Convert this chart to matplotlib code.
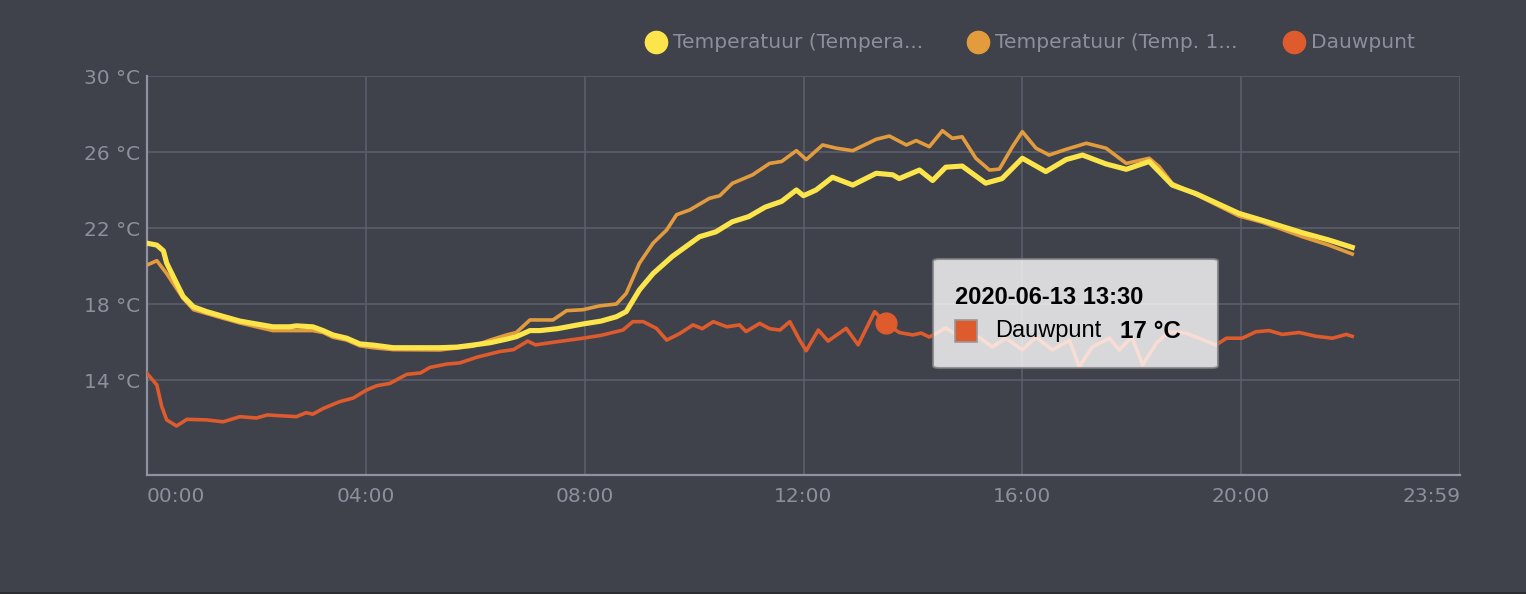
import matplotlib
matplotlib.use('Agg')
import matplotlib.pyplot as plt
from matplotlib.lines import Line2D
from matplotlib.patches import FancyBboxPatch, Rectangle

# series: hours since midnight, values in degC
temp_a_t = [0.0, 0.18, 0.3, 0.36, 0.66, 0.85, 1.09, 1.39, 1.7, 2.0, 2.3, 2.61, 2.73,
            3.03, 3.22, 3.4, 3.65, 3.89, 4.13, 4.5, 5.35, 5.66, 5.96, 6.27, 6.57,
            6.75, 7.0, 7.18, 7.5, 7.97, 8.3, 8.58, 8.76, 9.0, 9.25, 9.6, 10.1,
            10.4, 10.7, 11.0, 11.3, 11.6, 11.87, 12.0, 12.23, 12.53, 12.9, 13.33,
            13.63, 13.75, 14.12, 14.36, 14.6, 14.9, 15.33, 15.63, 16.0, 16.43,
            16.8, 17.1, 17.53, 17.9, 18.32, 18.74, 19.18, 19.96, 20.39, 21.12,
            21.6, 22.03]
temp_a = [21.2, 21.1, 20.8, 20.15, 18.4, 17.85, 17.6, 17.35, 17.1, 16.95, 16.8, 16.8, 16.85,
          16.8, 16.6, 16.37, 16.2, 15.9, 15.84, 15.7, 15.7, 15.73, 15.84, 15.96, 16.15,
          16.28, 16.6, 16.6, 16.7, 16.95, 17.1, 17.33, 17.6, 18.74, 19.6, 20.5, 21.54,
          21.8, 22.33, 22.6, 23.1, 23.4, 24.0, 23.7, 24.0, 24.67, 24.26, 24.88,
          24.8, 24.6, 25.05, 24.5, 25.2, 25.26, 24.36, 24.6, 25.67, 24.97,
          25.6, 25.84, 25.37, 25.09, 25.5, 24.26, 23.8, 22.77, 22.4, 21.75,
          21.37, 20.98]

temp_b_t = [0.0, 0.18, 0.36, 0.66, 0.85, 1.09, 1.39, 1.7, 2.0, 2.3, 2.73, 3.03,
            3.22, 3.4, 3.65, 3.89, 4.13, 4.5, 5.35, 5.96, 6.27, 6.57, 6.75, 7.0,
            7.42, 7.67, 7.97, 8.27, 8.58, 8.76, 9.0, 9.25, 9.5, 9.68, 9.92, 10.28,
            10.47, 10.7, 11.07, 11.38, 11.6, 11.87, 12.05, 12.35, 12.6, 12.9, 13.33,
            13.57, 13.88, 14.06, 14.3, 14.54, 14.72, 14.9, 15.15, 15.4, 15.58,
            15.82, 16.0, 16.25, 16.49, 16.8, 17.17, 17.53, 17.9, 18.32, 18.5,
            18.74, 19.18, 19.96, 20.39, 21.12, 21.6, 22.03]
temp_b = [20.05, 20.28, 19.6, 18.3, 17.7, 17.5, 17.25, 17.0, 16.8, 16.6, 16.6, 16.6,
          16.5, 16.25, 16.1, 15.8, 15.7, 15.6, 15.58, 15.78, 16.1, 16.37, 16.5, 17.16,
          17.16, 17.65, 17.7, 17.9, 18.0, 18.56, 20.14, 21.2, 21.9, 22.7, 22.95, 23.56,
          23.7, 24.35, 24.8, 25.4, 25.5, 26.07, 25.6, 26.37, 26.2, 26.07, 26.67,
          26.84, 26.37, 26.6, 26.28, 27.12, 26.72, 26.8, 25.67, 25.05, 25.1,
          26.28, 27.07, 26.2, 25.84, 26.14, 26.46, 26.2, 25.4, 25.67, 25.23,
          24.35, 23.75, 22.63, 22.3, 21.54, 21.1, 20.63]

dew_t = [0.0, 0.18, 0.27, 0.36, 0.54, 0.73, 1.09, 1.39, 1.7, 2.0, 2.2, 2.73, 2.91,
         3.03, 3.22, 3.52, 3.77, 4.01, 4.2, 4.44, 4.75, 5.0, 5.17, 5.48, 5.72, 6.03,
         6.45, 6.7, 6.96, 7.1, 7.46, 7.97, 8.3, 8.7, 8.88, 9.07, 9.31, 9.5, 9.74,
         9.98, 10.15, 10.35, 10.6, 10.83, 10.95, 11.2, 11.38, 11.57, 11.75, 11.93,
         12.05, 12.27, 12.45, 12.78, 13.0, 13.3, 13.5, 13.75, 14.0, 14.15, 14.3,
         14.6, 14.85, 15.2, 15.45, 15.7, 16.0, 16.25, 16.55, 16.86, 17.04, 17.28,
         17.59, 17.77, 18.0, 18.2, 18.45, 18.68, 19.0, 19.23, 19.54, 19.73, 20.02,
         20.27, 20.51, 20.75, 21.06, 21.37, 21.67, 21.92, 22.03]
dew = [14.35, 13.74, 12.6, 11.9, 11.58, 11.93, 11.9, 11.8, 12.07, 12.0, 12.16, 12.07, 12.28,
       12.2, 12.5, 12.86, 13.05, 13.47, 13.7, 13.82, 14.3, 14.37, 14.66, 14.84, 14.9, 15.2,
       15.5, 15.6, 16.05, 15.85, 16.0, 16.2, 16.35, 16.63, 17.07, 17.07, 16.72, 16.1, 16.45,
       16.9, 16.7, 17.07, 16.8, 16.9, 16.55, 16.98, 16.7, 16.63, 17.07, 16.1,
       15.54, 16.63, 16.05, 16.72, 15.85, 17.6, 17.0, 16.5, 16.37, 16.47, 16.26,
       16.74, 16.3, 16.26, 15.74, 16.2, 15.58, 16.26, 15.58, 16.1, 14.7, 15.74,
       16.2, 15.58, 16.26, 14.8, 15.94, 16.53, 16.47, 16.2, 15.84, 16.2, 16.2,
       16.54, 16.6, 16.4, 16.5, 16.3, 16.2, 16.4, 16.3]

labels = ['Temperatuur (Tempera...', 'Temperatuur (Temp. 1...', 'Dauwpunt']
x_ticks = [0, 4, 8, 12, 16, 20, 24]
x_labels = ['00:00', '04:00', '08:00', '12:00', '16:00', '20:00', '23:59']
y_ticks = [14, 18, 22, 26, 30]

hover_time = 13.5
hover_title = '2020-06-13 13:30'

BG = '#3f414b'
GRID = '#5a5e6b'
AXIS = '#8e93a3'
TXT = '#8c909c'
YELLOW = '#fbe54b'
ORANGE = '#e29c3d'
RED = '#dd5b2c'

W, H = 1526, 594
fig = plt.figure(figsize=(W / 100, H / 100), dpi=100, facecolor=BG)


def fx(x):
    return x / W


def fy(y):
    return 1 - y / H


ax = fig.add_axes([fx(147), fy(475), fx(1460) - fx(147), fy(76) - fy(475)])
ax.set_facecolor(BG)
ax.set_xlim(0, 24)
ax.set_ylim(9, 30)

ax.plot(temp_b_t, temp_b, color=ORANGE, lw=2.6, solid_joinstyle='round', zorder=3)
ax.plot(temp_a_t, temp_a, color=YELLOW, lw=3.7, solid_joinstyle='round', zorder=4)
ax.plot(dew_t, dew, color=RED, lw=2.6, solid_joinstyle='round', zorder=3)

hi = dew_t.index(hover_time)
ax.plot([dew_t[hi]], [dew[hi]], 'o', ms=15, color=RED, zorder=5)

ax.set_xticks(x_ticks, x_labels)
ax.set_yticks(y_ticks, [f'{v} °C' for v in y_ticks])
ax.tick_params(length=0, colors=TXT, labelsize=14.5)
ax.tick_params(axis='x', pad=9)
ax.tick_params(axis='y', pad=5)
xl = ax.get_xticklabels()
xl[0].set_ha('left')
xl[-1].set_ha('right')
ax.grid(True, color=GRID, lw=1.2)
ax.set_axisbelow(True)
for s in ['top', 'right']:
    ax.spines[s].set_visible(False)
for s in ['left', 'bottom']:
    ax.spines[s].set_color(AXIS)
    ax.spines[s].set_linewidth(1.6)
    ax.spines[s].set_zorder(2.5)

# legend on top
leg = [(656, YELLOW), (978, ORANGE), (1294, RED)]
for (cx, col), lab in zip(leg, labels):
    fig.add_artist(Line2D([fx(cx)], [fy(42)], marker='o', ms=16, color=col,
                          transform=fig.transFigure))
    fig.text(fx(cx + 17), fy(42), lab, color=TXT, fontsize=14.5, va='center')

# hover tooltip
box = FancyBboxPatch((fx(933), fy(368)), fx(1218) - fx(933), fy(259) - fy(368),
                     boxstyle='round,pad=0,rounding_size=0.004',
                     transform=fig.transFigure, facecolor='white', alpha=0.8,
                     edgecolor='#7f7f85', lw=1.5, zorder=10)
fig.add_artist(box)
fig.add_artist(Rectangle((fx(955), fy(342)), fx(977) - fx(955), fy(320) - fy(342),
                         transform=fig.transFigure, facecolor=RED,
                         edgecolor='#999999', lw=1.2, zorder=11))
tf = ['Liberation Sans', 'DejaVu Sans']
fig.text(fx(955), fy(297), hover_title, family=tf, fontsize=17, weight='bold',
         color='black', va='center', zorder=12)
fig.text(fx(995), fy(331), labels[2], family=tf, fontsize=17,
         color='black', va='center', zorder=12)
fig.text(fx(1120), fy(331), f'{dew[hi]:.0f} °C', family=tf, fontsize=17.5,
         weight='bold', color='black', va='center', zorder=12)

fig.add_artist(Rectangle((0, 0), 1, fy(592), transform=fig.transFigure,
                         facecolor='#2c2d33', edgecolor='none'))

fig.savefig('out.png', dpi=100, facecolor=BG)
